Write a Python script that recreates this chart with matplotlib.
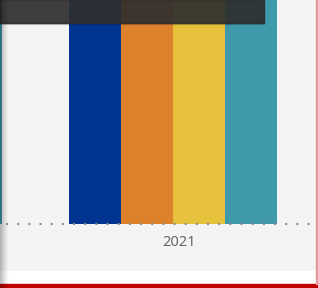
import matplotlib

matplotlib.use('Agg')
import matplotlib.pyplot as plt
import numpy as np
from matplotlib.patches import Rectangle
from matplotlib.transforms import ScaledTranslation

# ── data ────────────────────────────────────────────────────────────────
YEARS = ['2020', '2021']
SERIES = ['Series A', 'Series B', 'Series C', 'Series D']
# every bar runs off the top of the crop, so these only need to clear the ylim
VALUES = {
    'Series A': [100, 100],
    'Series B': [100, 100],
    'Series C': [100, 100],
    'Series D': [100, 100],
}
COLORS = {'Series A': '#013591', 'Series B': '#dd812b',
          'Series C': '#e6c23c', 'Series D': '#3f99ab'}

W, H, DPI = 318, 288, 100
BG = '#f4f4f4'


def fx(px):
    return px / W


def fy(py):  # py measured from top
    return 1 - py / H


plt.rcParams['font.family'] = ['Noto Sans', 'DejaVu Sans']
plt.rcParams['lines.scale_dashes'] = False

fig = plt.figure(figsize=(W / DPI, H / DPI), dpi=DPI, facecolor=BG)
base_py = 224
ax = fig.add_axes([0, fy(base_py), 1, 1 - fy(base_py)])
ax.set_facecolor(BG)

n = len(SERIES)
pitch, centre = 275.0, 173.2   # px per group, px of the 2021 group centre
bar_w = 52.1 / pitch
x = np.arange(len(YEARS))
for j, s in enumerate(SERIES):
    ax.bar(x + (j - n / 2 + 0.5) * bar_w, VALUES[s], bar_w, color=COLORS[s],
           linewidth=0, zorder=2)

# dotted baseline
ax.axhline(0, color='#8a8a8a', lw=1.5, linestyle=(3.7, (1.44, 6.6)),
           dash_capstyle='butt', zorder=3, clip_on=False)

ax.set_xticks(x)
ax.set_xticklabels(YEARS, fontsize=10.5, color='#666666')
ax.tick_params(axis='x', length=0, pad=8)
for lbl in ax.get_xticklabels():
    lbl.set_transform(lbl.get_transform() + ScaledTranslation(5.5 / DPI, 0, fig.dpi_scale_trans))
ax.set_yticks([])
# limits after the ticks, otherwise set_xticks widens the view to show 2020
ax.set_xlim(1 + (0 - centre) / pitch, 1 + (W - centre) / pitch)
ax.set_ylim(0, 80)
for sp in ax.spines.values():
    sp.set_visible(False)

# tooltip strip across the top
fig.patches.append(Rectangle((0, fy(24)), fx(264), fy(22.5) - fy(24), transform=fig.transFigure,
                             color='black', alpha=0.12, zorder=5))
fig.patches.append(Rectangle((0, fy(22.5)), fx(264), 22.5 / H, transform=fig.transFigure,
                             color='#2e2e2e', alpha=0.92, zorder=6))

# bottom white strip + red rule
fig.patches.append(Rectangle((0, fy(284)), 1, 13 / H, transform=fig.transFigure,
                             color='white', zorder=5))
fig.patches.append(Rectangle((0, 0), 1, 4 / H, transform=fig.transFigure,
                             color='#c00000', zorder=6))
# right pink edge
fig.patches.append(Rectangle((fx(316), fy(284)), fx(1.5), 284 / H, transform=fig.transFigure,
                             color='#e09a9a', zorder=6))

# left-edge shadow
sh = fig.add_axes([0, 0, fx(9), 1], zorder=10)
sh.axis('off')
grad = np.zeros((1, 64, 4))
grad[..., 3] = np.linspace(0.38, 0, 64) ** 1.3
sh.imshow(grad, aspect='auto', extent=(0, 1, 0, 1))
sh.set_xlim(0, 1)
sh.set_ylim(0, 1)

fig.savefig('out.png', dpi=DPI, facecolor=BG)
